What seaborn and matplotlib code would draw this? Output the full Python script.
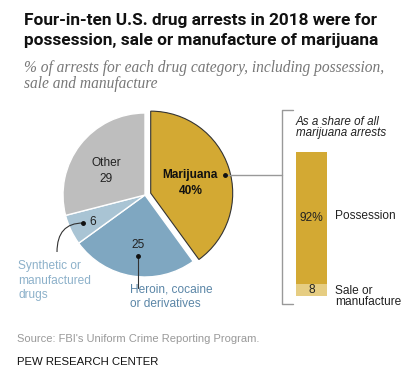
import matplotlib
matplotlib.use("Agg")
import matplotlib.pyplot as plt
import seaborn as sns
from matplotlib.path import Path
from matplotlib.patches import PathPatch

# data
categories = ["Marijuana", "Heroin, cocaine\nor derivatives", "Synthetic or\nmanufactured\ndrugs", "Other"]
shares = [40, 25, 6, 29]
pie_colors = ["#D3A933", "#7FA7C1", "#A9C4D4", "#BEBEBE"]

bar_labels = ["Sale or\nmanufacture", "Possession"]
bar_shares = [8, 92]
bar_colors = ["#E6CD82", "#D3A933"]

sns.set_theme(style="white")
plt.rcParams["font.family"] = ["Liberation Sans", "DejaVu Sans"]

W, H = 415, 380
fig = plt.figure(figsize=(W / 100, H / 100), dpi=100)
fig.patch.set_facecolor("white")

# main canvas in pixel units
ax = fig.add_axes([0, 0, 1, 1])


def Y(py):
    return H - py


def ftext(x, y, s, **kw):
    fig.text(x / W, 1 - y / H, s, **kw)


# title + subtitle
for yy, line in [(25, "Four-in-ten U.S. drug arrests in 2018 were for"),
                 (45, "possession, sale or manufacture of marijuana")]:
    ftext(24, yy, line, fontsize=12.4, fontweight="bold", color="#111111",
          va="baseline", family=["Roboto", "DejaVu Sans"])
for yy, line in [(72, "% of arrests for each drug category, including possession,"),
                 (88, "sale and manufacture")]:
    ftext(24, yy, line, fontsize=11.2, style="italic", color="#777777",
          va="baseline", family=["Liberation Serif", "DejaVu Serif"])

# pie
wedges, _ = ax.pie(shares, colors=pie_colors, startangle=90, counterclock=False,
                   center=(145, Y(195)), radius=82, explode=[6, 0, 0, 0],
                   wedgeprops=dict(edgecolor="white", linewidth=1.0), frame=True)
wedges[0].set_edgecolor("#333333")
wedges[0].set_linewidth(0.8)
ax.set_xlim(0, W)
ax.set_ylim(0, H)
ax.set_aspect("equal")
ax.axis("off")

# slice labels
ftext(190, 175, categories[0], fontsize=8.6, fontweight="bold", color="#111111",
      ha="center", va="center")
ftext(191, 191, f"{shares[0]}%", fontsize=8.6, fontweight="bold", color="#111111",
      ha="center", va="center")
ftext(106, 163, categories[3], fontsize=8.6, color="#222222", ha="center", va="center")
ftext(106, 179, str(shares[3]), fontsize=8.6, color="#222222", ha="center", va="center")
ftext(138, 245, str(shares[1]), fontsize=8.6, color="#222222", ha="center", va="center")
ftext(89, 222, str(shares[2]), fontsize=8.6, color="#222222", ha="left", va="center")

# leaders
ax.plot([225], [Y(175)], "o", color="#111111", ms=2.5, zorder=5)
ax.plot([225, 282], [Y(175), Y(175)], color="#999999", lw=1)
ax.plot([293, 282, 282, 293], [Y(110), Y(110), Y(304), Y(304)], color="#999999", lw=1)

ax.plot([138], [Y(256)], "o", color="#111111", ms=2.5, zorder=5)
ax.plot([138, 138], [Y(256), Y(288)], color="#333333", lw=0.8)

ax.plot([83], [Y(223)], "o", color="#111111", ms=2.5, zorder=5)
curve = Path([(83, Y(223)), (57, Y(223)), (57, Y(252))],
             [Path.MOVETO, Path.CURVE3, Path.CURVE3])
ax.add_patch(PathPatch(curve, fill=False, color="#333333", lw=0.8))

ftext(18, 260, categories[2], fontsize=8.6, color="#8DB1CA", ha="left", va="top",
      linespacing=1.3)
ftext(130, 297, categories[1], fontsize=8.6, color="#5B86A7", ha="left", va="center",
      linespacing=1.3)

# stacked bar for marijuana breakdown
bx = fig.add_axes([296 / W, (H - 296) / H, 31 / W, 144 / H])
bottom = 0
for lab, val, col in zip(bar_labels, bar_shares, bar_colors):
    bx.bar(0, val, bottom=bottom, width=1, color=col, edgecolor="none")
    txt = f"{val}%" if val == max(bar_shares) else str(val)
    bx.text(0, bottom + val / 2, txt, ha="center", va="center", fontsize=8.6, color="#222222")
    bottom += val
bx.set_xlim(-0.5, 0.5)
bx.set_ylim(0, 100)
bx.axis("off")

ftext(296, 122, "As a share of all", fontsize=8.4, style="italic", color="#222222",
      ha="left", va="center")
ftext(296, 133, "marijuana arrests", fontsize=8.4, style="italic", color="#222222",
      ha="left", va="center")
ftext(335, 216, bar_labels[1], fontsize=8.6, color="#222222", ha="left", va="center")
ftext(335, 291, "Sale or", fontsize=8.6, color="#222222", ha="left", va="center")
ftext(335, 302, "manufacture", fontsize=8.6, color="#222222", ha="left", va="center")

# footer
ftext(17, 339, "Source: FBI's Uniform Crime Reporting Program.", fontsize=8.0,
      color="#999999", ha="left", va="center")
ftext(17, 362, "PEW RESEARCH CENTER", fontsize=8.2, color="#111111", ha="left", va="center")

fig.savefig("out.png", dpi=100, facecolor="white")
